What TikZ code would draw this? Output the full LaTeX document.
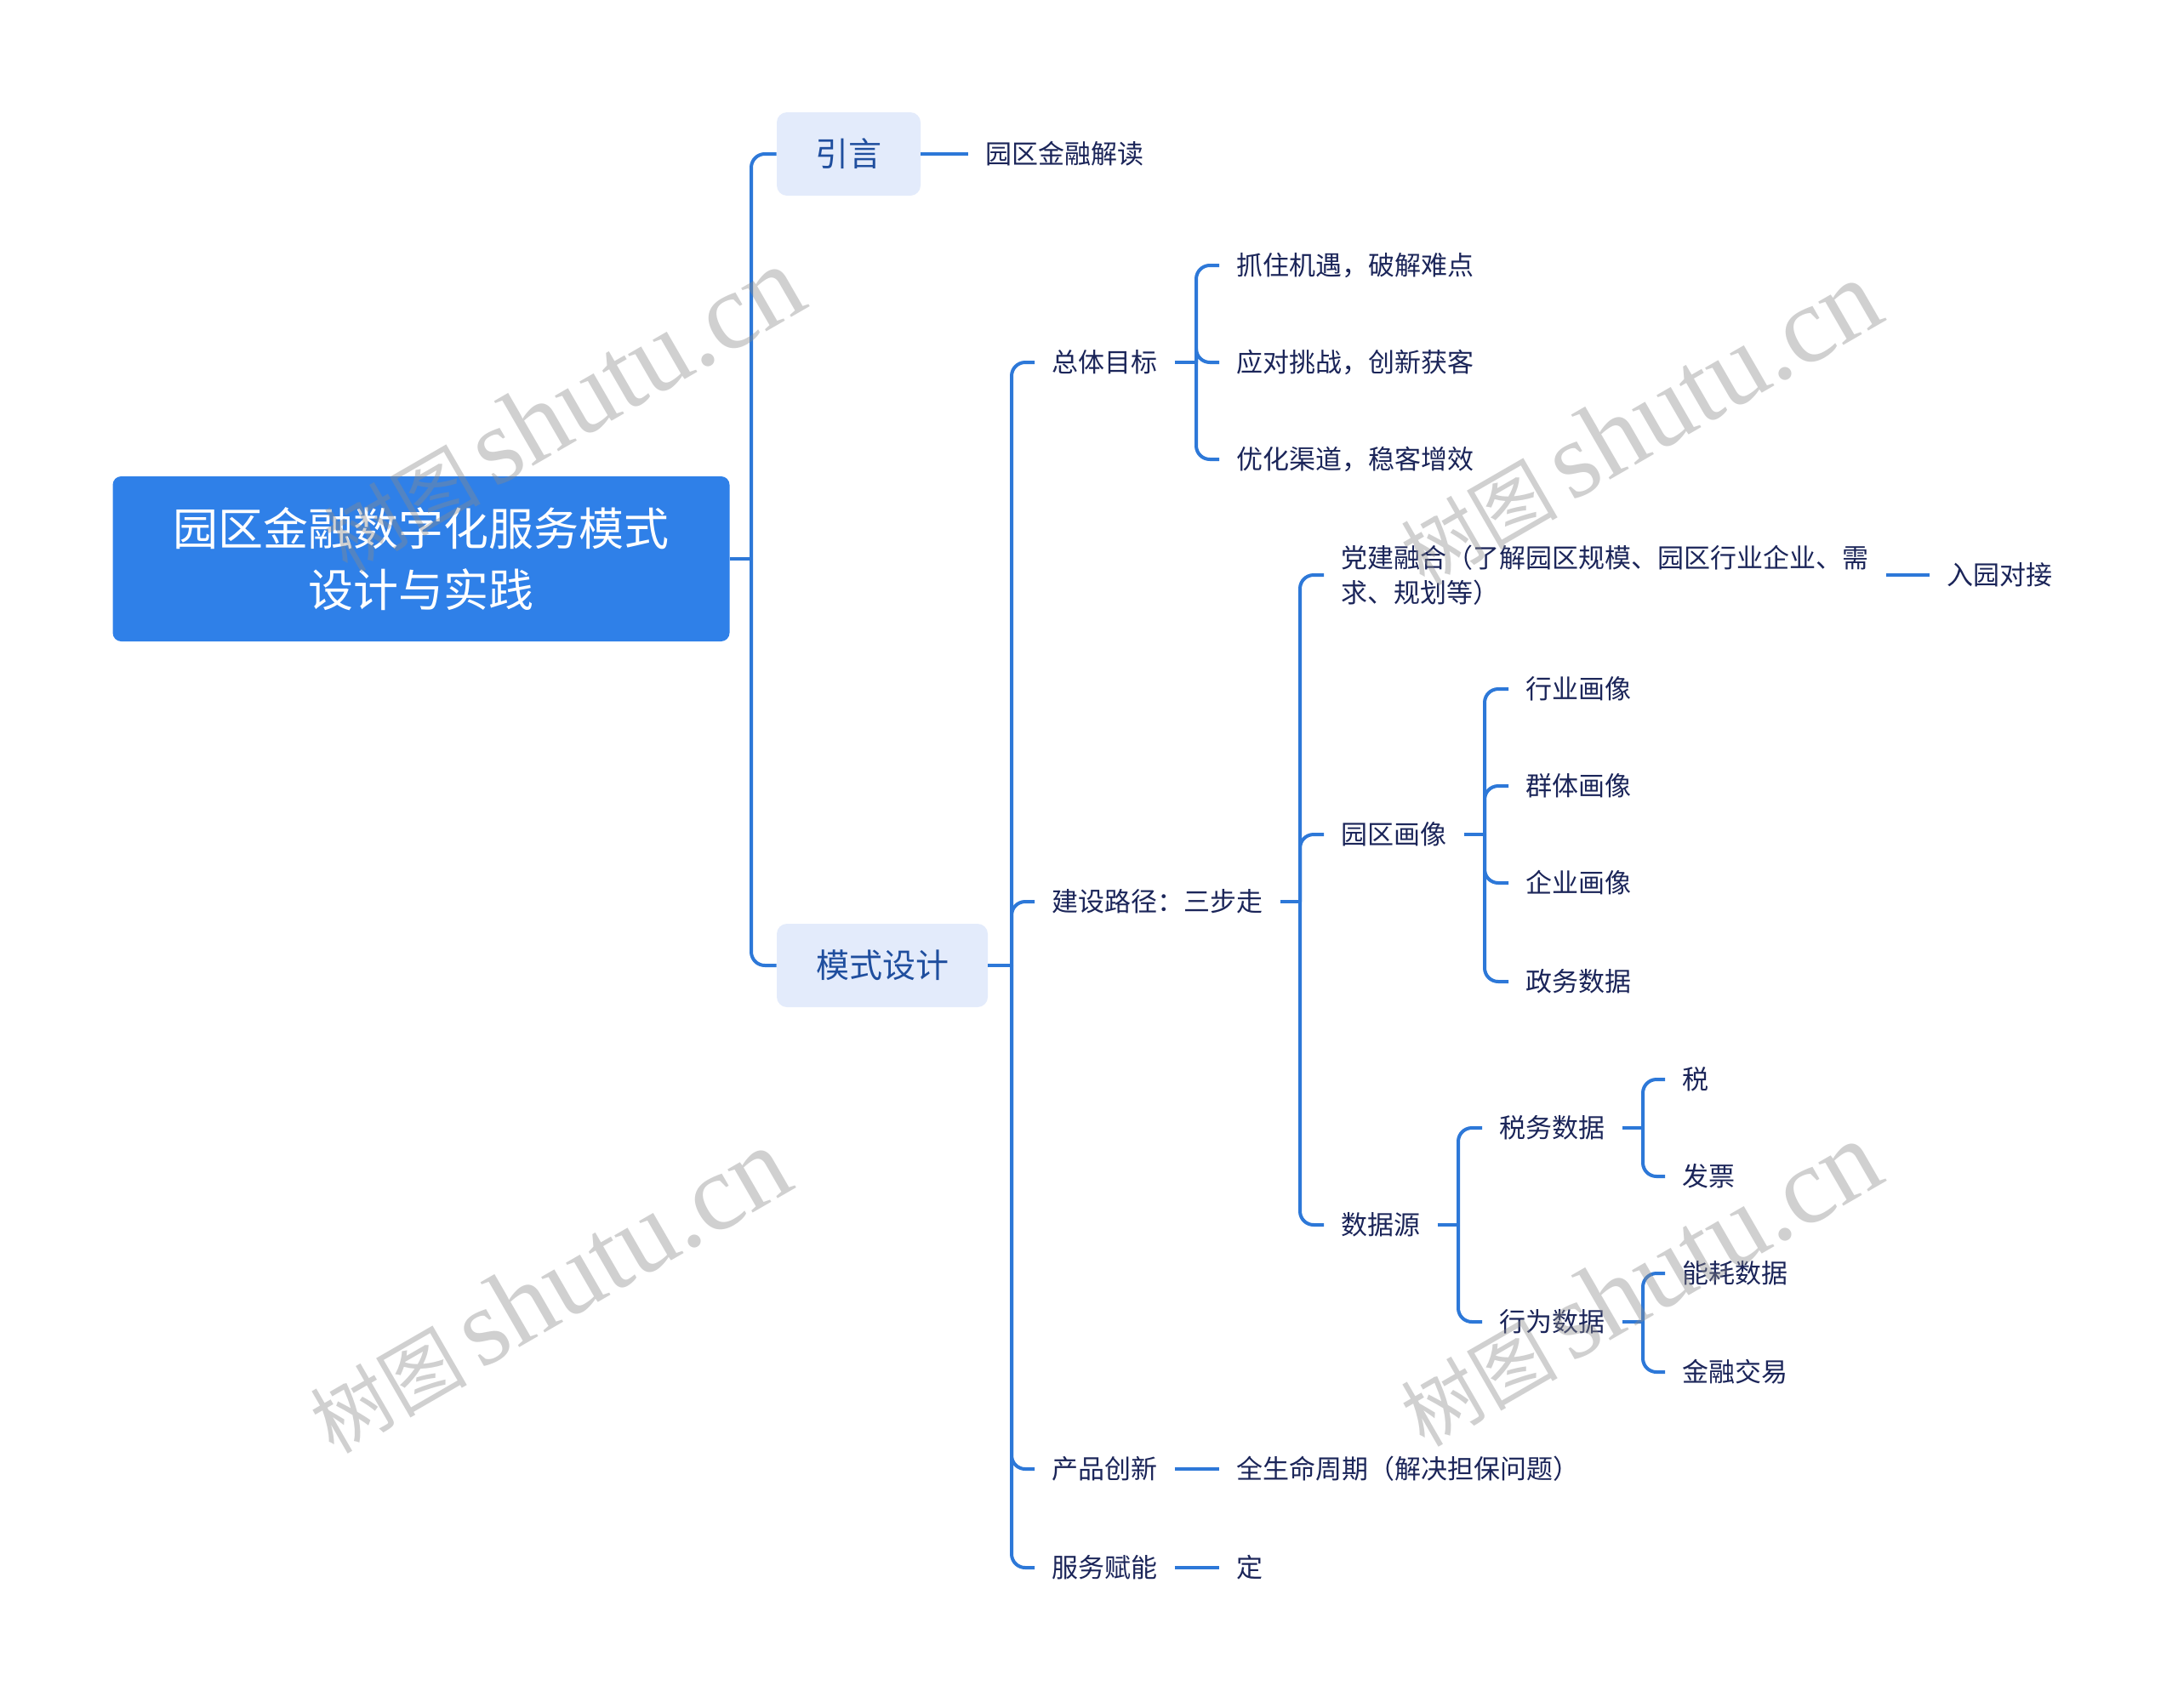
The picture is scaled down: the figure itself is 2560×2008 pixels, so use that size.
\documentclass[tikz,border=0pt]{standalone}
\usepackage{fontspec}
\setmainfont{Noto Sans CJK SC}
\newfontfamily\wmcjk{Noto Sans CJK SC}
\newfontfamily\wmlat{Liberation Serif}
\definecolor{lc}{HTML}{2D78D8}
\definecolor{rootc}{HTML}{2F80E8}
\definecolor{boxc}{HTML}{E3EBFB}
\definecolor{boxtc}{HTML}{1F4E9E}
\definecolor{tc}{HTML}{1B2559}
\definecolor{wmc}{HTML}{8A8A8A}
\tikzset{
  conn/.style={draw=lc, line width=2pt, rounded corners=8pt},
  txt/.style={anchor=west, inner xsep=10pt, inner ysep=2pt, text=tc, font=\fontsize{15.5}{20.5}\selectfont},
  rootbox/.style={fill=rootc, rounded corners=5pt, minimum width=362.5pt, minimum height=97pt, text=white, align=center, inner sep=0pt, font=\fontsize{26.5}{36}\selectfont},
  lbox/.style={fill=boxc, rounded corners=6pt, minimum height=49pt, text=boxtc, inner sep=0pt, font=\fontsize{19.5}{24}\selectfont},
  wm/.style={text=wmc, text opacity=0.4, rotate=30, inner sep=0pt}
}
\newcommand{\wmtext}{{\wmcjk\fontsize{46}{50}\selectfont 树图}\hspace{8pt}{\wmlat\fontsize{64}{70}\selectfont shutu.cn}}
\begin{document}
\begin{tikzpicture}[x=0.5pt,y=-0.5pt]
\useasboundingbox (0,0) rectangle (2560,2008);
\fill[white] (0,0) rectangle (2560,2008);

% root and level 1
\node[rootbox] (r) at (495,657) {园区金融数字化服务模式\\设计与实践};
\coordinate (b0) at (883,657);
\node[lbox, minimum width=84.5pt] (yy) at (997.5,181) {引言};
\node[lbox, minimum width=124pt] (m) at (1037,1135) {模式设计};
\draw[conn] (r.east) -- (b0);
\draw[conn] (b0) |- (yy.west);
\draw[conn] (b0) |- (m.west);

% 引言
\node[txt] (yyc) at (1138,181) {园区金融解读};
\draw[conn] (yy.east) -- (yyc.west);

% 模式设计 children
\coordinate (mb) at (1189,1135);
\node[txt] (zt) at (1216,426) {总体目标};
\node[txt] (js) at (1216,1060) {建设路径：三步走};
\node[txt] (cp) at (1216,1727) {产品创新};
\node[txt] (fw) at (1216,1843) {服务赋能};
\draw[conn] (m.east) -- (mb);
\foreach \c in {zt,js,cp,fw} \draw[conn] (mb) |- (\c.west);

% 总体目标
\coordinate (zb) at (1406,426);
\node[txt] (z1) at (1433,312) {抓住机遇，破解难点};
\node[txt] (z2) at (1433,426) {应对挑战，创新获客};
\node[txt] (z3) at (1433,540) {优化渠道，稳客增效};
\draw[conn] (zt.east) -- (zb);
\foreach \c in {z1,z2,z3} \draw[conn] (zb) |- (\c.west);

% 建设路径
\coordinate (jb) at (1528,1060);
\node[txt, align=left] (dj) at (1556,676) {党建融合（了解园区规模、园区行业企业、需\\求、规划等）};
\node[txt] (yq) at (1556,981) {园区画像};
\node[txt] (sj) at (1556,1440) {数据源};
\draw[conn] (js.east) -- (jb);
\foreach \c in {dj,yq,sj} \draw[conn] (jb) |- (\c.west);

\node[txt] (ry) at (2268,676) {入园对接};
\draw[conn] (dj.east) -- (ry.west);

% 园区画像
\coordinate (yb) at (1745,981);
\node[txt] (y1) at (1773,810) {行业画像};
\node[txt] (y2) at (1773,924) {群体画像};
\node[txt] (y3) at (1773,1038) {企业画像};
\node[txt] (y4) at (1773,1154) {政务数据};
\draw[conn] (yq.east) -- (yb);
\foreach \c in {y1,y2,y3,y4} \draw[conn] (yb) |- (\c.west);

% 数据源
\coordinate (sb) at (1714,1440);
\node[txt] (sw) at (1742,1326) {税务数据};
\node[txt] (xw) at (1742,1554) {行为数据};
\draw[conn] (sj.east) -- (sb);
\foreach \c in {sw,xw} \draw[conn] (sb) |- (\c.west);

\coordinate (swb) at (1931,1326);
\node[txt] (s1) at (1957,1269) {税};
\node[txt] (s2) at (1957,1383) {发票};
\draw[conn] (sw.east) -- (swb);
\foreach \c in {s1,s2} \draw[conn] (swb) |- (\c.west);

\coordinate (xwb) at (1931,1554);
\node[txt] (x1) at (1957,1497) {能耗数据};
\node[txt] (x2) at (1957,1613) {金融交易};
\draw[conn] (xw.east) -- (xwb);
\foreach \c in {x1,x2} \draw[conn] (xwb) |- (\c.west);

% 产品创新 / 服务赋能
\node[txt] (cp1) at (1433,1727) {全生命周期（解决担保问题）};
\draw[conn] (cp.east) -- (cp1.west);
\node[txt] (fw1) at (1433,1843) {定};
\draw[conn] (fw.east) -- (fw1.west);

% watermarks
\node[wm] (w1) at (661,482) {\wmtext};
\node[wm] (w2) at (645,1518) {\wmtext};
\node[wm] (w3) at (1927,498) {\wmtext};
\node[wm] (w4) at (1927,1510) {\wmtext};
\end{tikzpicture}
\end{document}
